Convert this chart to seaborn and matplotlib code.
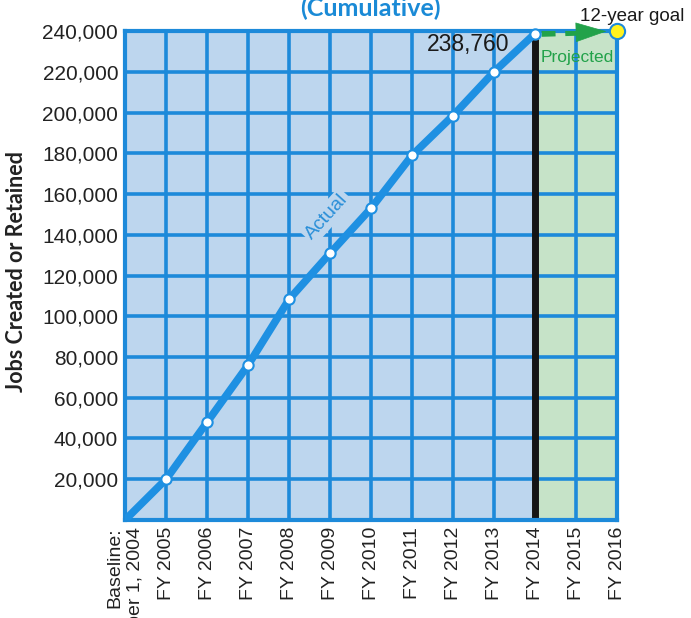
import matplotlib
matplotlib.use("Agg")
import matplotlib.pyplot as plt
import seaborn as sns
import pandas as pd

# ---- data ----
periods = ["Baseline:\nOctober 1, 2004", "FY 2005", "FY 2006", "FY 2007", "FY 2008",
           "FY 2009", "FY 2010", "FY 2011", "FY 2012", "FY 2013", "FY 2014",
           "FY 2015", "FY 2016"]
actual_jobs = [0, 20000, 48000, 76000, 108300, 130900, 153000, 179000,
               198500, 220000, 238760]
goal_jobs = 240000
y_ticks = [20000, 40000, 60000, 80000, 100000, 120000, 140000, 160000,
           180000, 200000, 220000, 240000]
y_tick_labels = [f"{v:,}" for v in y_ticks]

# ---- colours ----
PANEL_BLUE = "#BDD6EE"
PANEL_GREEN = "#C6E3C8"
GRID_BLUE = "#1D8ADA"
LINE_BLUE = "#1E90E2"
GREEN = "#22A24A"

sns.set_theme(style="white")
plt.rcParams['font.family'] = ['Liberation Sans', 'DejaVu Sans']

fig = plt.figure(figsize=(6.91, 6.18), dpi=100)
ax = fig.add_axes([0.181, 0.1586, 0.712, 0.7912])

n_actual = len(actual_jobs)
last_idx = n_actual - 1
df = pd.DataFrame({"idx": list(range(n_actual)), "jobs": actual_jobs})

ax.set_xlim(0, len(periods) - 1)
ax.set_ylim(0, y_ticks[-1])
ax.set_facecolor(PANEL_BLUE)
ax.axvspan(last_idx, len(periods) - 1, color=PANEL_GREEN, lw=0, zorder=0.3)

ax.set_axisbelow(True)
ax.grid(True, color=GRID_BLUE, lw=2.6)
ax.set_xticks(range(len(periods)))
ax.set_xticklabels(periods, rotation=90, ha="center", va="top",
                   multialignment="right", fontsize=14, color="#222222")
ax.set_yticks(y_ticks)
ax.set_yticklabels(y_tick_labels, fontsize=15, color="#222222")
ax.tick_params(axis="both", length=0)
ax.tick_params(axis="y", pad=5)
ax.tick_params(axis="x", pad=5)
for s in ax.spines.values():
    s.set_color(GRID_BLUE)
    s.set_linewidth(3)

# black divider at the last actual year
ax.vlines(last_idx, 0, actual_jobs[-1], color="#151515", lw=5, zorder=2)

# actual line
sns.lineplot(data=df, x="idx", y="jobs", ax=ax, color=LINE_BLUE, lw=5.5,
             zorder=3, legend=False)
sns.scatterplot(data=df.iloc[1:], x="idx", y="jobs", ax=ax, s=55,
                color="white", edgecolor=LINE_BLUE, linewidth=1.5, zorder=4,
                legend=False, clip_on=False)
ax.set_xlabel("")
ax.set_ylabel("")

# projected dashed arrow
x0, y0 = last_idx, actual_jobs[-1]
x1, y1 = len(periods) - 1, goal_jobs
def interp(f):
    return x0 + (x1 - x0) * f, y0 + (y1 - y0) * f
pa = interp(0.08)
pb = interp(0.56)
ax.plot([pa[0], pb[0]], [pa[1], pb[1]], color=GREEN, lw=5,
        dashes=(2.0, 1.4), solid_capstyle="butt", dash_capstyle="butt",
        zorder=3)
ha_ = interp(0.54)
hb_ = interp(0.87)
ax.annotate("", xy=hb_, xytext=ha_,
            arrowprops=dict(arrowstyle="-|>,head_length=1.0,head_width=0.32",
                            color=GREEN, lw=0.5, shrinkA=0, shrinkB=0,
                            mutation_scale=21),
            zorder=3, annotation_clip=False)

# goal marker
ax.scatter([x1], [y1], s=120, color="#FFF21E", edgecolor=GRID_BLUE,
           linewidth=1.5, zorder=6, clip_on=False)

# annotations
ax.text(9.38, 233500, f"{actual_jobs[-1]:,}", ha="right", va="center",
        fontsize=16.5, color="#1A1A1A", zorder=5)
ax.text(11.03, 227000, "Projected", ha="center", va="center",
        fontsize=12.5, color=GREEN, zorder=5)
ax.text(12.37, 247300, "12-year goal", ha="center", va="center",
        fontsize=13.5, color="#1A1A1A", clip_on=False, zorder=5)
ax.text(4.92, 149000, "Actual", ha="center", va="center", rotation=48,
        fontsize=14, color="#2A8FD8", zorder=5,
        bbox=dict(boxstyle="square,pad=0.12", fc=PANEL_BLUE, ec="none"))

# title and y label
fig.text(370 / 691, 1 - 8 / 618, "(Cumulative)", ha="center", va="center",
         fontsize=18, fontweight="bold", color="#1A8AD6",
         family=["Lato", "DejaVu Sans"])
fig.text(17 / 691, 1 - 272 / 618, "Jobs Created or Retained", ha="center",
         va="center", rotation=90, fontsize=15.5, fontweight="bold",
         color="#222222", family=["Lato", "DejaVu Sans"])

fig.savefig("out.png", dpi=100, facecolor="white")
